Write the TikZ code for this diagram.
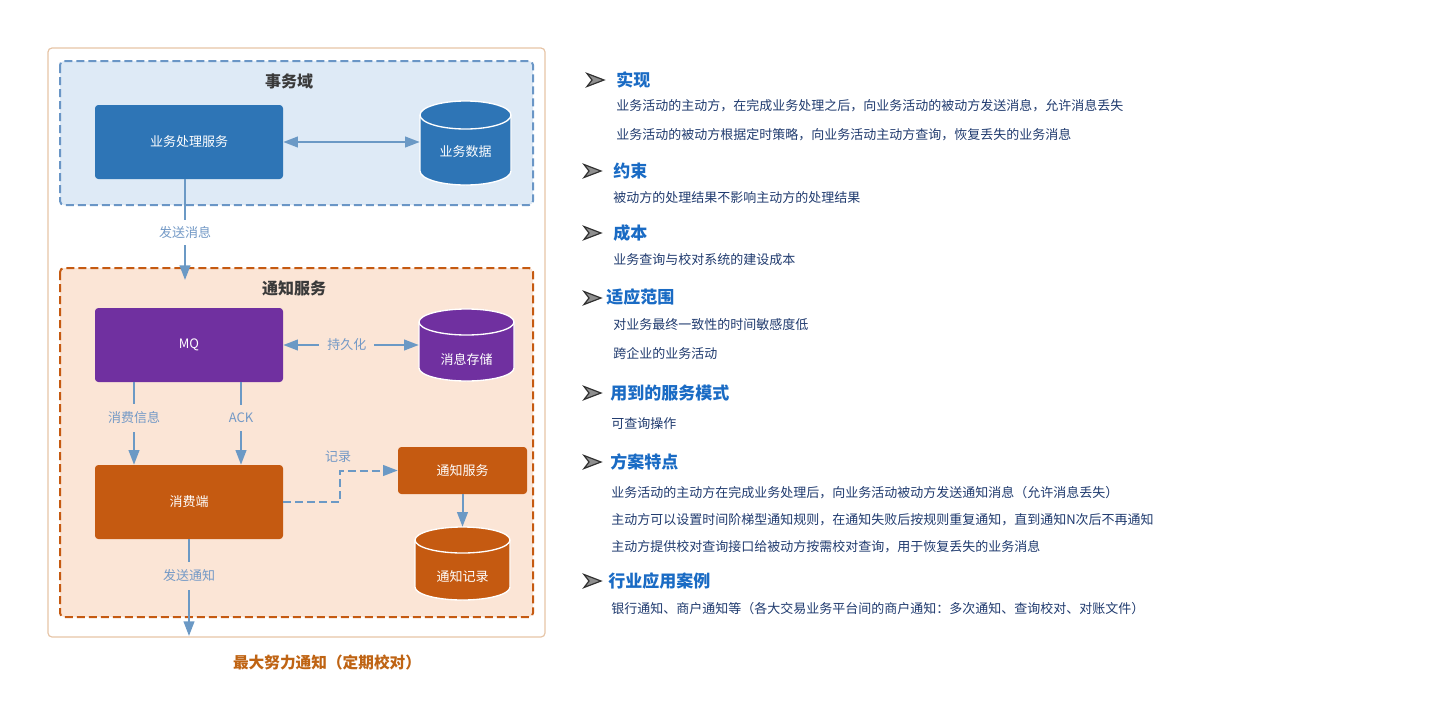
\documentclass[tikz,border=0pt]{standalone}
\usepackage{fontspec}
\setmainfont{Noto Sans CJK SC}
\usetikzlibrary{arrows.meta}
\definecolor{outerc}{RGB}{230,196,166}
\definecolor{bluebg}{RGB}{222,234,246}
\definecolor{blueborder}{RGB}{106,150,198}
\definecolor{bluebox}{RGB}{46,117,182}
\definecolor{orangebg}{RGB}{251,229,214}
\definecolor{orangeborder}{RGB}{197,90,17}
\definecolor{orangebox}{RGB}{197,90,17}
\definecolor{purplebox}{RGB}{112,48,160}
\definecolor{arrowc}{RGB}{107,153,197}
\definecolor{lblc}{RGB}{115,153,198}
\definecolor{titlec}{RGB}{58,58,58}
\definecolor{capc}{RGB}{191,100,20}
\definecolor{headc}{RGB}{26,107,196}
\definecolor{bodyc}{RGB}{31,58,110}
\definecolor{bulc}{RGB}{50,50,50}
\newcommand{\dbcyl}[6]{% cx, cy, halfw, halfh, ry, color
  \filldraw[fill=#6, draw=white, line width=1pt]
    (#1-#3, #2-#4+#5) -- (#1-#3, #2+#4-#5)
    arc[start angle=180, end angle=0, x radius=#3, y radius=#5]
    -- (#1+#3, #2-#4+#5)
    arc[start angle=0, end angle=-180, x radius=#3, y radius=#5] -- cycle;
  \draw[white, line width=1pt] (#1-#3, #2-#4+#5)
    arc[start angle=180, end angle=0, x radius=#3, y radius=#5];
}
\newcommand{\bulletarrow}[2]{%
  \filldraw[fill=bulc!55, draw=bulc, line width=0.9pt, line join=miter]
    (#1-8,#2-6.5) -- (#1+9,#2) -- (#1-8,#2+6.5) -- (#1-3,#2) -- cycle;
}
\begin{document}
\begin{tikzpicture}[x=0.75pt, y=-0.75pt,
  fs/.style={font=\fontsize{9.75}{12}\selectfont},
  svc/.style={rectangle, rounded corners=2.5pt, minimum width=141pt, minimum height=55.5pt, text=white, fs, inner sep=0pt},
  smallsvc/.style={svc, minimum width=96.75pt, minimum height=35.25pt},
  anch/.style={rectangle, inner sep=0pt},
  cyltext/.style={text=white, fs, inner sep=0pt},
  arr/.style={draw=arrowc, line width=1.5pt, -{Triangle[length=11pt,width=8pt]}},
  darr/.style={draw=arrowc, line width=1.5pt, {Triangle[length=11pt,width=8pt]}-{Triangle[length=11pt,width=8pt]}},
  lbl/.style={text=lblc, fs, inner sep=0pt},
  domtitle/.style={text=titlec, font=\fontsize{12}{14}\selectfont\bfseries},
  head/.style={text=headc, font=\fontsize{12.75}{15}\selectfont\bfseries, anchor=west, inner sep=0pt},
  body/.style={text=bodyc, fs, anchor=west, inner sep=0pt}
]
\useasboundingbox (0,0) rectangle (1445,715);

% outer frame
\draw[outerc, line width=0.9pt, rounded corners=3pt] (48,48) rectangle (545,637);

% transaction domain
\draw[fill=bluebg, draw=blueborder, line width=1.5pt, dash pattern=on 6pt off 3pt, rounded corners=3pt] (60,61) rectangle (533,205);
\node[domtitle] (tdom) at (289,81) {事务域};

% notification domain
\draw[fill=orangebg, draw=orangeborder, line width=1.5pt, dash pattern=on 6pt off 3pt, rounded corners=3pt] (60,268) rectangle (533,617);
\node[domtitle] (ndom) at (294,288) {通知服务};

% boxes
\node[svc, fill=bluebox] (biz) at (189,142) {业务处理服务};
\node[svc, fill=purplebox] (mq) at (189,345) {MQ};
\node[svc, fill=orangebox] (cons) at (189,502) {消费端};
\node[smallsvc, fill=orangebox] (nsvc) at (462.5,470.5) {通知服务};

% cylinders
\dbcyl{465.5}{143}{45.5}{42}{14}{bluebox}
\node[anch, minimum width=68.25pt, minimum height=63pt] (bizdb) at (465.5,143) {};
\node[cyltext] (bizdbt) at (465.5,152) {业务数据};

\dbcyl{466.5}{345}{47.5}{36}{13}{purplebox}
\node[anch, minimum width=71.25pt, minimum height=54pt] (msgdb) at (466.5,345) {};
\node[cyltext] (msgdbt) at (466.5,359) {消息存储};

\dbcyl{462.5}{563.5}{47.5}{36.5}{13}{orangebox}
\node[anch, minimum width=71.25pt, minimum height=54.75pt] (recdb) at (462.5,563.5) {};
\node[cyltext] (recdbt) at (462.5,577) {通知记录};

% connectors
\draw[darr] (biz.east) -- (biz.east -| bizdb.west);

\coordinate (sendend) at (185,280);
\draw[arr] (biz.south -| sendend) -- node[lbl, fill=white, inner ysep=5pt, inner xsep=2pt, pos=0.53] {发送消息} (sendend);

\draw[darr] (mq.east) -- node[lbl, fill=orangebg, inner xsep=6pt, inner ysep=2pt, pos=0.47] {持久化} (mq.east -| msgdb.west);

\coordinate (c1) at (134,382);
\draw[arr] (mq.south -| c1) -- node[lbl, fill=orangebg, inner ysep=6pt, inner xsep=2pt, pos=0.43] {消费信息} (cons.north -| c1);
\coordinate (c2) at (241,382);
\draw[arr] (mq.south -| c2) -- node[lbl, fill=orangebg, inner ysep=6pt, inner xsep=2pt, pos=0.43] {ACK} (cons.north -| c2);

\coordinate (recbend) at (340,502);
\draw[arr, dash pattern=on 6pt off 3pt] (cons.east) -- (recbend) |- (nsvc.west);
\node[lbl] (reclbl) at (338,457) {记录};

\draw[arr] (nsvc.south) -- (recdb.north);

\coordinate (notifyend) at (189,636);
\draw[arr] (cons.south) -- node[lbl, fill=orangebg, inner ysep=6pt, inner xsep=2pt, pos=0.38] {发送通知} (notifyend);

% caption
\node[text=capc, font=\fontsize{11.75}{14}\selectfont\bfseries] (cap) at (327,662) {最大努力通知（定期校对）};

% right side
\bulletarrow{595}{80}
\node[head] (h1) at (616,80) {实现};
\node[body] (b11) at (616,106) {业务活动的主动方，在完成业务处理之后，向业务活动的被动方发送消息，允许消息丢失};
\node[body] (b12) at (616,135) {业务活动的被动方根据定时策略，向业务活动主动方查询，恢复丢失的业务消息};

\bulletarrow{592}{171}
\node[head] (h2) at (613,171) {约束};
\node[body] (b21) at (613,198) {被动方的处理结果不影响主动方的处理结果};

\bulletarrow{592}{233}
\node[head] (h3) at (613,233) {成本};
\node[body] (b31) at (613,260) {业务查询与校对系统的建设成本};

\bulletarrow{592}{298}
\node[head] (h4) at (606,297) {适应范围};
\node[body] (b41) at (613,325) {对业务最终一致性的时间敏感度低};
\node[body] (b42) at (613,354) {跨企业的业务活动};

\bulletarrow{592}{393}
\node[head] (h5) at (610,393) {用到的服务模式};
\node[body] (b51) at (611,424) {可查询操作};

\bulletarrow{592}{462}
\node[head] (h6) at (610,462) {方案特点};
\node[body] (b61) at (611,493) {业务活动的主动方在完成业务处理后，向业务活动被动方发送通知消息（允许消息丢失）};
\node[body] (b62) at (611,520) {主动方可以设置时间阶梯型通知规则，在通知失败后按规则重复通知，直到通知N次后不再通知};
\node[body] (b63) at (611,547) {主动方提供校对查询接口给被动方按需校对查询，用于恢复丢失的业务消息};

\bulletarrow{592}{581}
\node[head] (h7) at (608,581) {行业应用案例};
\node[body] (b71) at (611,609) {银行通知、商户通知等（各大交易业务平台间的商户通知：多次通知、查询校对、对账文件）};
\end{tikzpicture}
\end{document}
